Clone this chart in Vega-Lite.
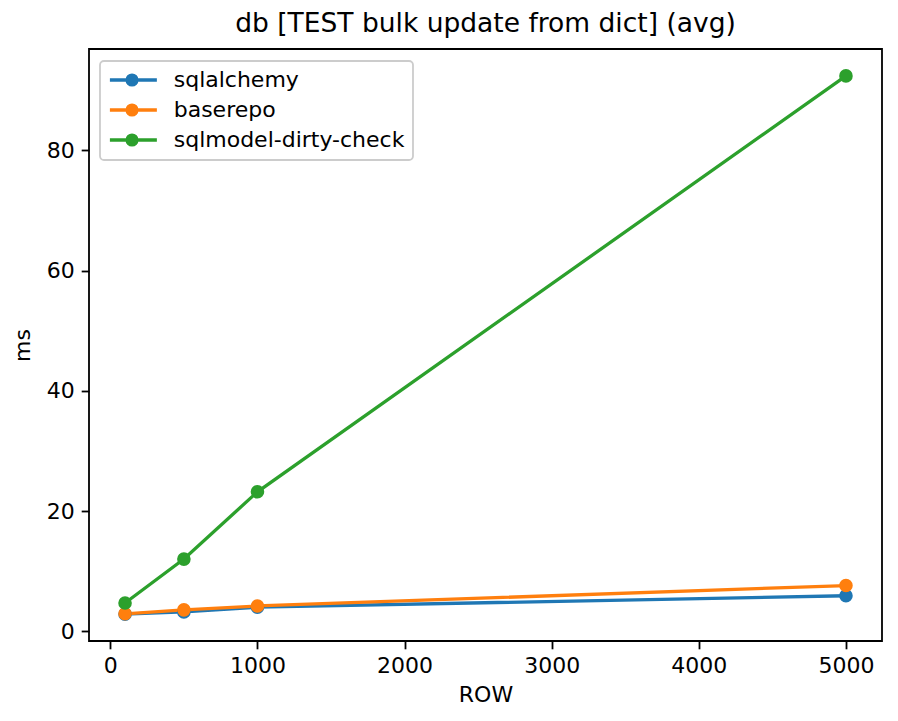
{
  "$schema": "https://vega.github.io/schema/vega-lite/v6.json",
  "width": 793,
  "height": 592,
  "autosize": {"type": "none"},
  "padding": {"left": 89, "top": 49, "right": 16, "bottom": 80},
  "title": {"text": "db [TEST bulk update from dict] (avg)", "fontSize": 26.5, "font": "DejaVu Sans", "fontWeight": "normal", "offset": 12, "anchor": "middle", "color": "black"},
  "data": {
    "values": [
      {"ROW": 100, "ms": 2.85, "series": "sqlalchemy"},
      {"ROW": 500, "ms": 3.2, "series": "sqlalchemy"},
      {"ROW": 1000, "ms": 4.0, "series": "sqlalchemy"},
      {"ROW": 5000, "ms": 5.9, "series": "sqlalchemy"},
      {"ROW": 100, "ms": 2.9, "series": "baserepo"},
      {"ROW": 500, "ms": 3.55, "series": "baserepo"},
      {"ROW": 1000, "ms": 4.2, "series": "baserepo"},
      {"ROW": 5000, "ms": 7.6, "series": "baserepo"},
      {"ROW": 100, "ms": 4.7, "series": "sqlmodel-dirty-check"},
      {"ROW": 500, "ms": 12.0, "series": "sqlmodel-dirty-check"},
      {"ROW": 1000, "ms": 23.2, "series": "sqlmodel-dirty-check"},
      {"ROW": 5000, "ms": 92.4, "series": "sqlmodel-dirty-check"}
    ]
  },
  "encoding": {
    "x": {"field": "ROW", "type": "quantitative", "title": "ROW",
      "scale": {"domain": [-145, 5245], "nice": false, "zero": false},
      "axis": {"values": [0, 1000, 2000, 3000, 4000, 5000], "format": "d"}},
    "y": {"field": "ms", "type": "quantitative", "title": "ms",
      "scale": {"domain": [-1.63, 96.88], "nice": false, "zero": false},
      "axis": {"values": [0, 20, 40, 60, 80], "format": "d"}},
    "color": {"field": "series", "type": "nominal",
      "scale": {"domain": ["sqlalchemy", "baserepo", "sqlmodel-dirty-check"], "range": ["#1f77b4", "#ff7f0e", "#2ca02c"]},
      "legend": {"title": null}}
  },
  "layer": [
    {"mark": {"type": "line", "strokeWidth": 3.3}},
    {"mark": {"type": "point", "filled": true, "size": 185, "opacity": 1}}
  ],
  "config": {
    "font": "DejaVu Sans",
    "view": {"stroke": "black", "strokeWidth": 1.8},
    "axis": {
      "domain": false,
      "grid": false,
      "tickColor": "black",
      "tickSize": 7.8,
      "tickWidth": 1.8,
      "labelFont": "DejaVu Sans",
      "labelFontSize": 22,
      "labelColor": "black",
      "labelPadding": 7,
      "titleFont": "DejaVu Sans",
      "titleFontSize": 22,
      "titleFontWeight": "normal",
      "titleColor": "black"
    },
    "axisX": {"titlePadding": 8},
    "axisY": {"titlePadding": 12},
    "legend": {
      "orient": "none",
      "legendX": 11,
      "legendY": 12,
      "labelFont": "DejaVu Sans",
      "labelFontSize": 22,
      "labelColor": "black",
      "labelLimit": 500,
      "symbolType": "M-1.3,0H5.41M2.56,0A0.7,0.7 0 1,1 1.16,0A0.7,0.7 0 1,1 2.56,0Z",
      "symbolSize": 196,
      "symbolStrokeWidth": 3.3,
      "symbolOpacity": 1,
      "padding": 8,
      "rowPadding": 6,
      "labelOffset": 43.7,
      "fillColor": "rgba(255,255,255,0.8)",
      "strokeColor": "#cccccc",
      "strokeWidth": 1.8,
      "cornerRadius": 4
    }
  }
}
